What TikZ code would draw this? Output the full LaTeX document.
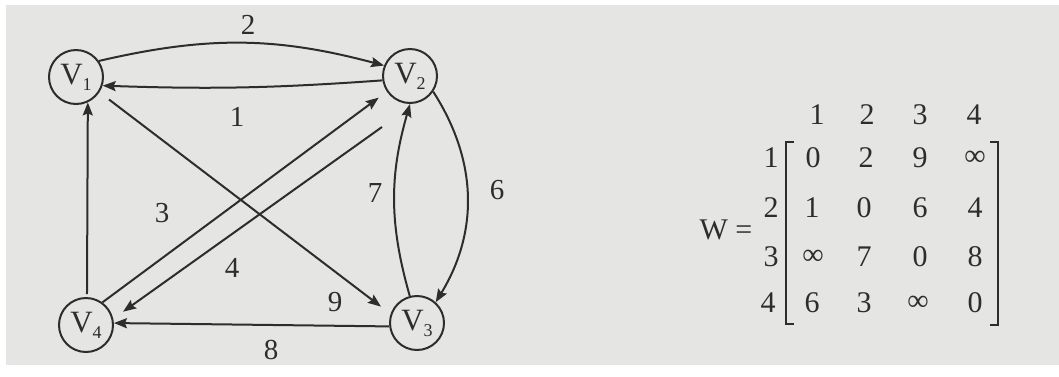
\documentclass[tikz,border=0pt]{standalone}
\usepackage{fontspec}
\setmainfont{Liberation Serif}
\usetikzlibrary{arrows.meta}
\definecolor{bg}{RGB}{229,229,227}
\definecolor{ink}{RGB}{45,45,45}
\newcommand\vsub[1]{\raisebox{-6pt}{\fontsize{18}{18}\selectfont #1}}
\begin{document}
\begin{tikzpicture}[x=1pt,y=-1pt,
  vert/.style={circle,draw=ink,line width=2pt,minimum size=54pt,inner sep=0pt,text=ink,font=\fontsize{31}{33}\selectfont},
  edge/.style={draw=ink,line width=2pt,-{Stealth[length=13pt,width=10pt,inset=2pt]}},
  lab/.style={text=ink,font=\fontsize{29}{32}\selectfont,inner sep=0pt},
  mat/.style={text=ink,font=\fontsize{30}{32}\selectfont,inner sep=0pt},
  brk/.style={draw=ink,line width=1.5pt}]
\fill[white] (0,0) rectangle (1059,376);
\fill[bg] (6,5) rectangle (1059,365);
\useasboundingbox (0,0) rectangle (1059,376);
% vertices
\node[vert] (V1) at (76,77) {V\vsub{1}};
\node[vert] (V2) at (410,76) {V\vsub{2}};
\node[vert] (V3) at (417,323) {V\vsub{3}};
\node[vert] (V4) at (86,325) {V\vsub{4}};
\coordinate (c4) at (382,127);
% edges
\draw[edge] (V1.35) to[bend left=14] (V2.158);
\draw[edge] (V2.189) to[bend left=3] (V1.-18);
\draw[edge,shorten <=12pt,shorten >=12pt] (V1.-33) -- (V3.161);
\draw[edge,shorten >=10pt] (V4.54) -- (V2.214);
\draw[edge,shorten >=12pt] (c4) -- (V4.13);
\draw[edge,shorten <=3pt] (V4.88) -- (V1.-65);
\draw[edge] (V3.105) to[bend left=16] (V2.-90);
\draw[edge] (V2.-34) to[bend left=32] (V3.48);
\draw[edge] (V3.187) -- (V4.4);
% edge labels
\node[lab] (l2) at (248,25) {2};
\node[lab] (l1) at (237,117) {1};
\node[lab] (l3) at (162,213) {3};
\node[lab] (l4) at (232,268) {4};
\node[lab] (l9) at (335,302) {9};
\node[lab] (l7) at (375,193) {7};
\node[lab] (l6) at (497,190) {6};
\node[lab] (l8) at (271,350) {8};
% matrix
\node[mat] (W) at (726,230) {W =};
\node[mat] (h1) at (817,115) {1};
\node[mat] (h2) at (867,115) {2};
\node[mat] (h3) at (920,115) {3};
\node[mat] (h4) at (974,115) {4};
\node[mat] (r1) at (771,158) {1};
\node[mat] (r2) at (771,208) {2};
\node[mat] (r3) at (771,257) {3};
\node[mat] (r4) at (768,303) {4};
\node[mat] (m11) at (813,158) {0};
\node[mat] (m12) at (866,158) {2};
\node[mat] (m13) at (920,158) {9};
\node[mat] (m14) at (975,158) {∞};
\node[mat] (m21) at (812,208) {1};
\node[mat] (m22) at (864,208) {0};
\node[mat] (m23) at (920,208) {6};
\node[mat] (m24) at (975,208) {4};
\node[mat] (m31) at (813,257) {∞};
\node[mat] (m32) at (864,257) {7};
\node[mat] (m33) at (920,257) {0};
\node[mat] (m34) at (975,257) {8};
\node[mat] (m41) at (812,303) {6};
\node[mat] (m42) at (864,303) {3};
\node[mat] (m43) at (918,303) {∞};
\node[mat] (m44) at (975,303) {0};
\draw[brk] (794,142) -- (786,142) -- (786,324) -- (794,324);
\draw[brk] (990,142) -- (998,142) -- (998,325) -- (990,325);
\end{tikzpicture}
\end{document}
